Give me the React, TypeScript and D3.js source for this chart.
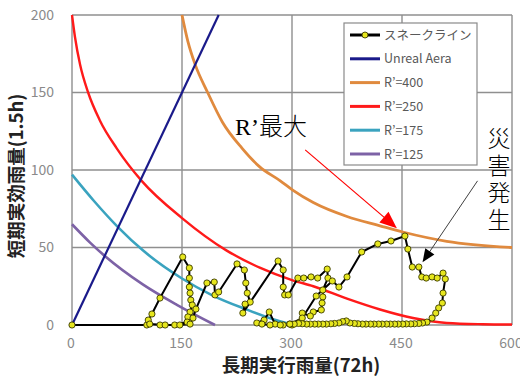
import React from 'react';
import * as d3 from 'd3';

const xTicks = [0, 150, 300, 450, 600];
const yTicks = [0, 50, 100, 150, 200];

const unrealArea: [number, number][] = [[0, 0], [200, 200]];
const r400: [number, number][] = [[150, 200], [158, 183], [168, 168], [185, 150], [205, 131], [232, 114], [256, 102], [284, 93], [301, 87], [329, 79], [375, 70], [420, 64], [451, 60], [511, 54], [600, 50]];
const r250: [number, number][] = [[0, 200], [4, 186], [11, 168], [22, 150], [38, 132], [61, 114], [95, 93], [150, 69], [211, 48], [256, 37], [300, 29], [329, 25], [375, 17], [420, 10], [465, 4.5], [511, 1.3], [560, 0.5], [600, 0.3]];
const r175: [number, number][] = [[0, 97], [30, 80], [63, 63], [97, 48], [150, 30], [192, 19], [238, 10], [279, 3], [302, 0]];
const r125: [number, number][] = [[0, 65], [25, 53], [46, 44], [97, 26], [143, 13], [195, 0]];

const snake: [number, number][] = [
  [0, 0], [102, 0], [104, 3.2], [109, 7.1], [120, 17.4], [151, 43.9], [160, 36.8], [160, 30.3], [160, 24.5], [161, 20.6],
  [162, 16.1], [164, 12.9], [161, 8.4], [158, 5.2], [157, 1.9], [140, 0], [120, 0], [106, 0.6], [127, 0], [147, 0],
  [161, 0.6], [165, 4.5], [169, 10.3], [184, 27.1], [194, 27.7], [195, 19.4], [200, 21.3], [225, 39.4], [235, 35.5], [237, 27.1],
  [239, 20.6], [243, 14.8], [236, 13.5], [233, 7.7], [281, 41.3], [288, 35.5], [288, 24.5], [290, 19.4], [295, 19.4], [308, 30.3],
  [316, 30.3], [326, 31.0], [335, 30.3], [348, 36.1], [349, 30.3], [342, 22.6], [342, 18.1], [341, 14.2], [340, 9.7], [329, 8.4],
  [325, 5.8], [314, 7.7], [311, 1.9], [300, 0], [288, 0], [277, 0.6], [269, 8.4], [262, 3.2], [252, 1.3], [259, 0.6],
  [270, 0], [284, 0], [297, 0.6], [314, 4.5], [333, 18.7], [355, 28.4], [364, 24.5], [375, 31.0], [395, 47.1], [417, 52.3],
  [435, 54.2], [454, 57.4], [458, 49.0], [464, 37.4], [473, 37.4], [477, 31.0], [483, 30.3], [491, 31.0], [498, 30.3], [506, 33.5],
  [509, 29.7], [506, 20.6], [505, 14.2], [500, 11.0], [496, 7.7], [491, 4.5], [484, 1.9], [478, 1.3], [473, 1.0], [467, 0.8],
  [462, 0.7], [456, 0.7], [451, 0.6], [445, 0.6], [440, 0.6], [434, 0.6], [429, 0.6], [423, 0.6], [418, 0.6], [412, 0.6],
  [407, 0.6], [401, 0.6], [396, 0.6], [390, 0.8], [385, 1.0], [379, 1.3], [374, 2.6], [369, 2.2], [364, 1.3], [358, 1.0],
  [353, 0.8], [347, 0.6], [342, 0.6], [336, 0.6], [331, 0.6], [325, 0.6], [320, 0.6], [314, 0.8], [309, 1.0], [303, 0.6], [297, 0.6],
];

const seriesNames = ['スネークライン', 'Unreal Aera', 'R’=400', 'R’=250', 'R’=175', 'R’=125'];
const seriesColors = ['#000000', '#1a1a8a', '#e08a3e', '#ff1a1a', '#3aa3bf', '#7d62a6'];

const W = 520;
const H = 376;

export default function App() {
  const x = d3.scaleLinear().domain([0, 600]).range([72, 512]);
  const y = d3.scaleLinear().domain([0, 200]).range([325, 15]);

  const smooth = d3.line<[number, number]>().x(d => x(d[0])).y(d => y(d[1])).curve(d3.curveMonotoneX);
  const straight = d3.line<[number, number]>().x(d => x(d[0])).y(d => y(d[1]));

  const curves: { data: [number, number][]; color: string; w: number }[] = [
    { data: r125, color: seriesColors[5], w: 2.6 },
    { data: r175, color: seriesColors[4], w: 2.6 },
    { data: r250, color: seriesColors[3], w: 2.4 },
    { data: r400, color: seriesColors[2], w: 2.8 },
  ];

  const sans = '"Noto Sans CJK JP", "Noto Sans", sans-serif';

  const redFrom = [x(318), y(113)];
  const redTo = [x(443), y(62.5)];
  const blkFrom = [x(553), y(93)];
  const blkTo = [x(478), y(40.5)];

  const arrowHead = (from: number[], to: number[], len: number, half: number) => {
    const dx = to[0] - from[0];
    const dy = to[1] - from[1];
    const L = Math.hypot(dx, dy);
    const ux = dx / L, uy = dy / L;
    const bx = to[0] - ux * len, by = to[1] - uy * len;
    return `M${to[0]},${to[1]}L${bx - uy * half},${by + ux * half}L${bx + uy * half},${by - ux * half}Z`;
  };
  const shorten = (from: number[], to: number[], len: number) => {
    const dx = to[0] - from[0];
    const dy = to[1] - from[1];
    const L = Math.hypot(dx, dy);
    return [to[0] - (dx / L) * len, to[1] - (dy / L) * len];
  };
  const redEnd = shorten(redFrom, redTo, 12);
  const blkEnd = shorten(blkFrom, blkTo, 10);

  const legX = 344, legY = 23, legW = 133, legH = 142;
  const legStep = 23.8;

  return (
    <svg width={W} height={H} style={{ position: 'absolute', left: 0, top: 0, background: '#fff' }}>
      <rect x={0} y={0} width={W} height={H} fill="#fff" />
      {xTicks.map(t => (
        <line key={'gx' + t} x1={x(t)} x2={x(t)} y1={y(0)} y2={y(200)} stroke="#8f8f8f" strokeWidth={1.4} />
      ))}
      {yTicks.map(t => (
        <line key={'gy' + t} x1={x(0)} x2={x(600)} y1={y(t)} y2={y(t)} stroke="#8f8f8f" strokeWidth={1.4} />
      ))}
      {yTicks.map(t => (
        <text key={'ty' + t} x={54} y={y(t)} dy="0.35em" textAnchor="end" fontFamily={sans} fontSize={14} fill="#8a8a8a">{t}</text>
      ))}
      {xTicks.map(t => (
        <text key={'tx' + t} x={x(t) - 1} y={348} textAnchor="middle" fontFamily={sans} fontSize={14} fill="#8a8a8a">{t}</text>
      ))}
      {curves.map((c, i) => (
        <path key={'c' + i} d={smooth(c.data) || ''} fill="none" stroke={c.color} strokeWidth={c.w} />
      ))}
      <path d={straight(unrealArea) || ''} fill="none" stroke={seriesColors[1]} strokeWidth={2.2} />
      <path d={straight(snake) || ''} fill="none" stroke="#000" strokeWidth={2} strokeLinejoin="round" />
      {snake.map((d, i) => (
        <circle key={'s' + i} cx={x(d[0])} cy={y(d[1])} r={3.1} fill="#e6e61e" stroke="#3a3a00" strokeWidth={0.9} />
      ))}
      <rect x={legX} y={legY} width={legW} height={legH} fill="#fff" stroke="#8a8a8a" strokeWidth={1.2} />
      {seriesNames.map((n, i) => {
        const cy = legY + 12 + i * legStep;
        return (
          <g key={'l' + i}>
            <line x1={legX + 6} x2={legX + 36} y1={cy} y2={cy} stroke={seriesColors[i]} strokeWidth={3} />
            {i === 0 && <circle cx={legX + 21} cy={cy} r={3} fill="#e6e61e" stroke="#3a3a00" strokeWidth={0.9} />}
            <text x={legX + 40} y={cy} dy="0.36em" fontFamily={sans} fontSize={12.5} fill="#595959">{n}</text>
          </g>
        );
      })}
      <line x1={redFrom[0]} y1={redFrom[1]} x2={redEnd[0]} y2={redEnd[1]} stroke="#ff0000" strokeWidth={1.2} />
      <path d={arrowHead(redFrom, redTo, 17, 7)} fill="#ff0000" />
      <line x1={blkFrom[0]} y1={blkFrom[1]} x2={blkEnd[0]} y2={blkEnd[1]} stroke="#404040" strokeWidth={1} />
      <path d={arrowHead(blkFrom, blkTo, 13, 5.5)} fill="#000" />
      <text x={235} y={135} fontFamily='"Liberation Serif", "Noto Sans CJK JP", serif' fontSize={24} fill="#000">
        R’<tspan fontFamily={sans} fontWeight={300}>最大</tspan>
      </text>
      <text x={499} y={127} style={{ writingMode: 'vertical-rl' as any }} fontFamily={sans} fontWeight={300} fontSize={23} letterSpacing={4} fill="#000">災害発生</text>
      <text x={301} y={372} textAnchor="middle" fontFamily={sans} fontWeight="bold" fontSize={18.5} fill="#222">長期実行雨量(72h)</text>
      <text transform="translate(23,176) rotate(-90)" textAnchor="middle" fontFamily={sans} fontWeight="bold" fontSize={18.5} fill="#222">短期実効雨量(1.5h)</text>
    </svg>
  );
}
